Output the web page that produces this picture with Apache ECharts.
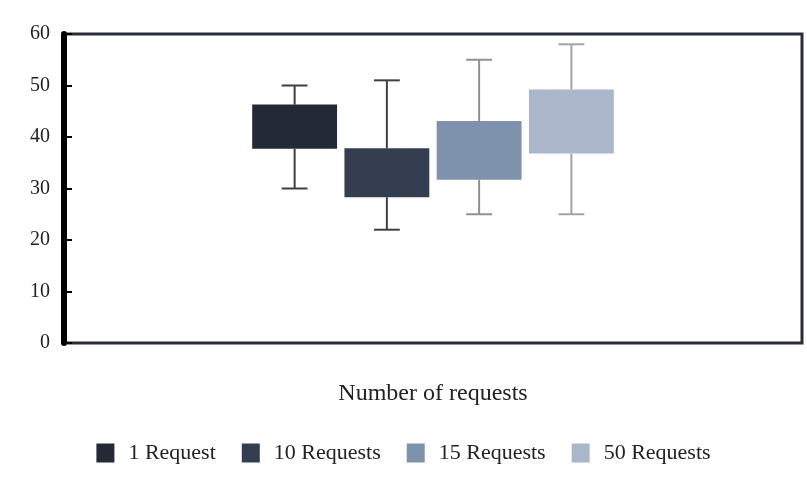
<!DOCTYPE html>
<html><head><meta charset="utf-8">
<script src="https://cdn.jsdelivr.net/npm/echarts@6/dist/echarts.min.js"></script>
<style>html,body{margin:0;padding:0;background:#fff}#c{width:807px;height:494px}</style>
</head><body><div id="c"></div>
<script>
// Data
const seriesNames = ['1 Request', '10 Requests', '15 Requests', '50 Requests'];
const slots = ['', ' ', '1 Request', '10 Requests', '15 Requests', '50 Requests', '  ', '   '];
const mins = [30, 22, 25, 25];
const q1s = [37.7, 28.3, 31.7, 36.8];
const q3s = [46.3, 37.8, 43.1, 49.2];
const maxs = [50, 51, 55, 58];
const yTicks = [0, 10, 20, 30, 40, 50, 60];
const axisTitle = 'Number of requests';

// Styles
const boxColors = ['#222a36', '#343e50', '#7e92ae', '#aab6c9'];
const whiskerColors = ['#3b3e45', '#3b404b', '#8d9097', '#a0a4ab'];
const FONT = '"Liberation Serif", "Times New Roman", serif';

function makeRender(i) {
  return function (params, api) {
    const xi = api.value(0);
    const band = api.size([1, 0])[0];
    const bw = band * 0.92;
    const cw = band * 0.28;
    const pMax = api.coord([xi, api.value(4)]);
    const pQ3 = api.coord([xi, api.value(3)]);
    const pQ1 = api.coord([xi, api.value(2)]);
    const pMin = api.coord([xi, api.value(1)]);
    const cx = pMax[0];
    const ls = { stroke: whiskerColors[i], lineWidth: 2 };
    return {
      type: 'group',
      children: [
        { type: 'line', shape: { x1: cx, y1: pMax[1], x2: cx, y2: pQ3[1] }, style: ls },
        { type: 'line', shape: { x1: cx, y1: pQ1[1], x2: cx, y2: pMin[1] }, style: ls },
        { type: 'line', shape: { x1: cx - cw / 2, y1: pMax[1], x2: cx + cw / 2, y2: pMax[1] }, style: ls },
        { type: 'line', shape: { x1: cx - cw / 2, y1: pMin[1], x2: cx + cw / 2, y2: pMin[1] }, style: ls },
        { type: 'rect', shape: { x: cx - bw / 2, y: pQ3[1], width: bw, height: pQ1[1] - pQ3[1] },
          style: { fill: boxColors[i], stroke: null } }
      ]
    };
  };
}

const series = seriesNames.map(function (name, i) {
  return {
    name: name,
    type: 'custom',
    itemStyle: { color: boxColors[i] },
    encode: { x: 0, y: [1, 2, 3, 4] },
    data: [[name, mins[i], q1s[i], q3s[i], maxs[i]]],
    renderItem: makeRender(i)
  };
});

const chart = echarts.init(document.getElementById('c'), null, { renderer: 'canvas' });
chart.setOption({
  animation: false,
  backgroundColor: '#ffffff',
  grid: { left: 64, right: 5, top: 34, bottom: 151, show: true, borderColor: '#2a2d38', borderWidth: 3, backgroundColor: '#ffffff' },
  legend: {
    data: seriesNames,
    top: 437,
    left: 'center',
    icon: 'rect',
    itemWidth: 18,
    itemHeight: 19,
    itemGap: 26,
    textStyle: { fontFamily: FONT, fontSize: 22, color: '#222', padding: [0, 0, 0, 9] }
  },
  xAxis: {
    type: 'category',
    data: slots,
    boundaryGap: true,
    axisLine: { show: false },
    axisTick: { show: false },
    axisLabel: { show: false },
    splitLine: { show: false },
    name: axisTitle,
    nameLocation: 'middle',
    nameGap: 39,
    nameTextStyle: { fontFamily: FONT, fontSize: 24, color: '#222' }
  },
  yAxis: {
    type: 'value',
    min: yTicks[0],
    max: yTicks[yTicks.length - 1],
    interval: 10,
    axisLine: { show: true, lineStyle: { color: '#000', width: 6 } },
    axisTick: { show: true, inside: true, length: 8, lineStyle: { color: '#000', width: 2 } },
    axisLabel: { fontFamily: FONT, fontSize: 20, color: '#222', margin: 14 },
    splitLine: { show: false }
  },
  series: series
});
</script>
</body></html>
